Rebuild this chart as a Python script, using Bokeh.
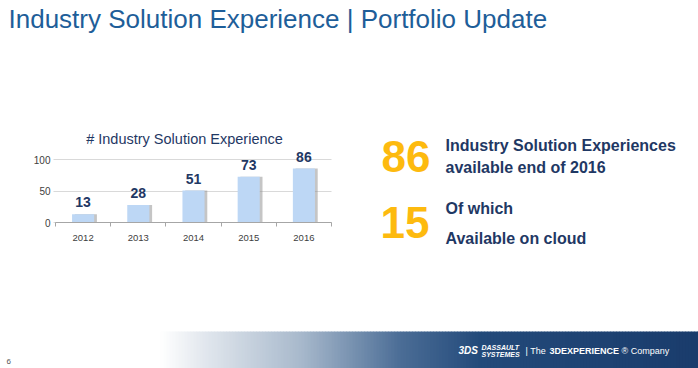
from bokeh.plotting import figure
from bokeh.models import (Range1d, FixedTicker, LabelSet, LinearAxis,
                          ColumnDataSource, NumeralTickFormatter)
from bokeh.core.properties import value
from bokeh.transform import dodge
from bokeh.embed import file_html
from bokeh.resources import INLINE

# ---- data ----
years = [2012, 2013, 2014, 2015, 2016]
counts = [13, 28, 51, 73, 86]
count_labels = [str(c) for c in counts]
y_ticks = [0, 50, 100]

slide_title = "Industry Solution Experience | Portfolio Update"
chart_title = "# Industry Solution Experience"
kpi_total = "86"
kpi_total_text = ["Industry Solution Experiences", "available end of 2016"]
kpi_cloud = "15"
kpi_cloud_text = ["Of which", "Available on cloud"]

FONT = "Liberation Sans"
DARK = "#1F3864"
W, H = 698, 368

# chart placement on the page (pixels)
CH_LEFT, CH_RIGHT = 55, 331
CH_ZERO, CH_HUNDRED = 222, 159.3

# whole-page figure: frame covers the whole canvas, page pixel coordinates
p = figure(width=W, height=H, output_backend="svg", toolbar_location=None,
           title=None, x_range=Range1d(0, W), y_range=Range1d(H, 0),
           x_axis_type=None, y_axis_type=None, min_border=0)
p.grid.visible = False
p.outline_line_color = None
p.background_fill_color = "white"
p.border_fill_color = "white"

# chart ranges mapped onto the page
x0, x1 = years[0] - 0.5, years[-1] + 0.5
ppx = (CH_RIGHT - CH_LEFT) / (x1 - x0)
ppy = (CH_ZERO - CH_HUNDRED) / 100.0
p.extra_x_ranges = {"cx": Range1d(x0 - CH_LEFT / ppx, x1 + (W - CH_RIGHT) / ppx)}
p.extra_y_ranges = {"cy": Range1d(-(H - CH_ZERO) / ppy, CH_ZERO / ppy)}


def txt(x, y, text, size, color, style="normal", align="left", font=FONT):
    p.text(x=[x], y=[y], text=[text], text_font=value(font), text_font_size=size,
           text_font_style=style, text_color=color, text_align=align,
           text_baseline="middle")


# ---------- slide title ----------
txt(8, 18, slide_title, "26px", "#1E5E99")

# ---------- bar chart ----------
src = ColumnDataSource(dict(years=years, counts=counts, labels=count_labels))

yaxis = LinearAxis(x_range_name="cx", y_range_name="cy", fixed_location=x0,
                   bounds=(0, 100), ticker=FixedTicker(ticks=y_ticks), level="underlay")
yaxis.axis_line_color = None
yaxis.minor_tick_line_color = None
yaxis.major_tick_in = CH_RIGHT - CH_LEFT
yaxis.major_tick_out = 2
yaxis.major_tick_line_color = "#D9D9D9"
yaxis.major_label_text_font = FONT
yaxis.major_label_text_font_size = "10px"
yaxis.major_label_text_color = "#404040"
yaxis.major_label_standoff = 3
p.add_layout(yaxis, "left")

p.vbar(x=dodge("years", 0.05, range=p.extra_x_ranges["cx"]), top="counts", width=0.4,
       source=src, fill_color="#8C8C8C", fill_alpha=0.5, line_color=None,
       x_range_name="cx", y_range_name="cy")
p.vbar(x="years", top="counts", width=0.4, source=src,
       fill_color="#BDD7F5", line_color=None, x_range_name="cx", y_range_name="cy")
p.add_layout(LabelSet(x="years", y="counts", text="labels", source=src,
                      x_range_name="cx", y_range_name="cy",
                      y_offset=12, text_align="center", text_baseline="middle",
                      text_font=value(FONT), text_font_style="bold",
                      text_font_size="14px", text_color=DARK))

xaxis = LinearAxis(x_range_name="cx", y_range_name="cy", fixed_location=0,
                   bounds=(x0, x1),
                   ticker=FixedTicker(ticks=years,
                                      minor_ticks=[y - 0.5 for y in years] + [x1]),
                   formatter=NumeralTickFormatter(format="0"))
xaxis.major_tick_line_color = None
xaxis.major_tick_in = 0
xaxis.major_tick_out = 0
xaxis.minor_tick_in = 0
xaxis.minor_tick_out = 4
xaxis.minor_tick_line_color = "#A6A6A6"
xaxis.axis_line_color = "#A6A6A6"
xaxis.major_label_text_font = FONT
xaxis.major_label_text_font_size = "9.5px"
xaxis.major_label_text_color = "#404040"
xaxis.major_label_standoff = 8
p.add_layout(xaxis, "below")

txt(184, 138, chart_title, "14.5px", DARK, align="center")

# ---------- KPI block ----------
txt(381, 156, kpi_total, "44px", "#FDBA0F", style="bold")
txt(380, 222, kpi_cloud, "44px", "#FDBA0F", style="bold")
for t, yy in zip(kpi_total_text, [145, 167]):
    txt(445, yy, t, "16px", DARK, style="bold")
for t, yy in zip(kpi_cloud_text, [208, 238]):
    txt(445, yy, t, "16px", DARK, style="bold")

# ---------- footer band ----------
stops = [(160, (255, 255, 255)), (200, (228, 233, 239)), (300, (168, 185, 204)),
         (400, (75, 109, 150)), (480, (35, 74, 122)), (698, (26, 60, 108))]


def grad(x):
    for (a0, c0), (a1, c1) in zip(stops[:-1], stops[1:]):
        if a0 <= x <= a1:
            t = (x - a0) / (a1 - a0)
            return "#%02x%02x%02x" % tuple(int(round(a + (b - a) * t)) for a, b in zip(c0, c1))
    return "#%02x%02x%02x" % stops[-1][1]


step = 3
lefts = list(range(160, W, step))
band = ColumnDataSource(dict(left=lefts, right=[x + step + 0.5 for x in lefts],
                             top=[331] * len(lefts), bottom=[H] * len(lefts),
                             color=[grad(x + step / 2) for x in lefts]))
p.quad(left="left", right="right", top="top", bottom="bottom", source=band,
       fill_color="color", line_color=None)

# logo
txt(458, 350, "3DS", "10px", "white", style="bold italic")
txt(481, 347, "DASSAULT", "7px", "white", style="bold italic")
txt(481, 354, "SYSTEMES", "7px", "white", style="bold italic")
txt(525, 350, "| The", "9px", "white")
txt(549, 350, "3DEXPERIENCE", "9px", "white", style="bold")
txt(621, 350, "\u00ae Company", "9px", "white")

# page number
txt(6, 361, "6", "8px", "#555555")

open("out.html", "w").write(file_html(p, INLINE))
